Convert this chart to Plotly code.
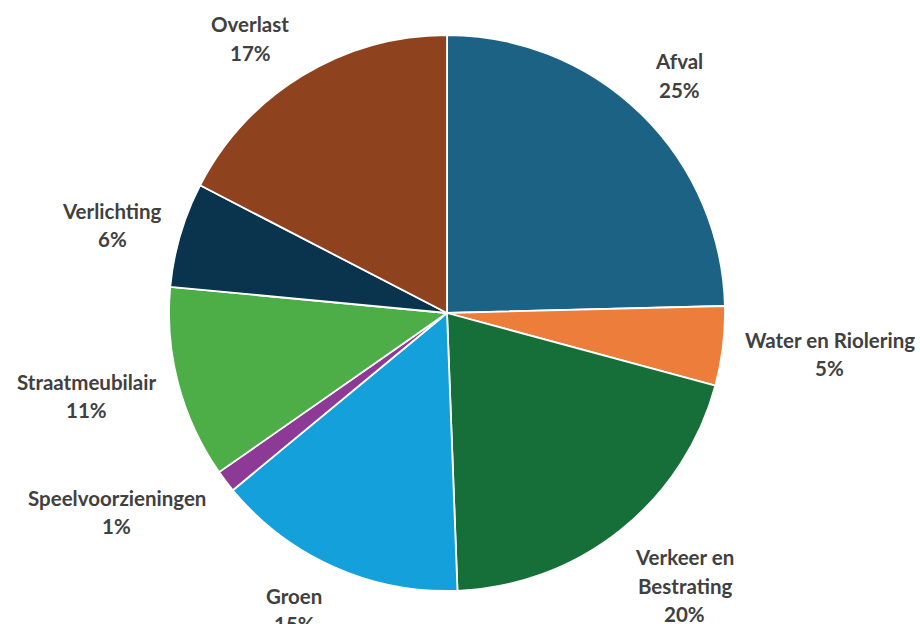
import math
import plotly.graph_objects as go

# ---- data ----
categories = ["Afval", "Water en Riolering", "Verkeer en Bestrating", "Groen",
              "Speelvoorzieningen", "Straatmeubilair", "Verlichting", "Overlast"]
values = [24.6, 4.6, 20.2, 14.6, 1.3, 11.2, 6.1, 17.4]
# how each label is broken over lines (text only)
label_lines = [["Afval"], ["Water en Riolering"], ["Verkeer en", "Bestrating"], ["Groen"],
               ["Speelvoorzieningen"], ["Straatmeubilair"], ["Verlichting"], ["Overlast"]]

# ---- style / layout ----
colors = ["#1C6284", "#ED7D3A", "#166F38", "#14A0DA",
          "#8C3A96", "#4DAE48", "#0A344D", "#8E421E"]
W, H = 920, 624
CX, CY, R = 447, 313, 278          # pie centre / radius in pixels
FONT = dict(family="Lato", size=20.5, color="#404040", weight="bold")
LINE_H = 28.5
CHAR_W = 9.5
GAP = 18
# manual label nudges (px), like hand-placed Excel data labels
label_nudge = [(0, 1), (1, -5), (14, -8), (-17, -6), (-27, -32), (-1, -12), (5, 12), (-20, 16)]

fig = go.Figure(go.Pie(
    labels=categories,
    values=values,
    sort=False,
    direction="clockwise",
    rotation=0,
    marker=dict(colors=colors, line=dict(color="white", width=1.8)),
    textinfo="none",
    hoverinfo="label+percent",
    showlegend=False,
    domain=dict(x=[(CX - R) / W, (CX + R) / W],
                y=[(H - CY - R) / H, (H - CY + R) / H]),
))

total = sum(values)
annotations = []
cum = 0.0
for i, (v, lines) in enumerate(zip(values, label_lines)):
    mid = (cum + v / 2) / total * 2 * math.pi
    cum += v
    pct = f"{round(v / total * 100):.0f}%"
    all_lines = lines + [pct]
    w = max(len(s) for s in all_lines) * CHAR_W
    h = len(all_lines) * LINE_H
    s, c = math.sin(mid), math.cos(mid)
    d = R + GAP + abs(s) * w / 2 + abs(c) * h / 2
    lx = CX + d * s + label_nudge[i][0]
    ly = CY - d * c + label_nudge[i][1]
    n = len(all_lines)
    for k, txt in enumerate(all_lines):
        yy = ly + (k - (n - 1) / 2) * LINE_H
        annotations.append(dict(
            x=lx / W, y=1 - yy / H, xref="paper", yref="paper",
            text=txt, showarrow=False, xanchor="center", yanchor="middle",
            font=FONT,
        ))

fig.update_layout(
    width=W, height=H,
    margin=dict(l=0, r=0, t=0, b=0),
    paper_bgcolor="white",
    plot_bgcolor="white",
    annotations=annotations,
)

fig.write_html("out.html",
               config={"displayModeBar": False},
               post_script="document.body.style.margin='0';document.body.style.overflow='hidden';")
